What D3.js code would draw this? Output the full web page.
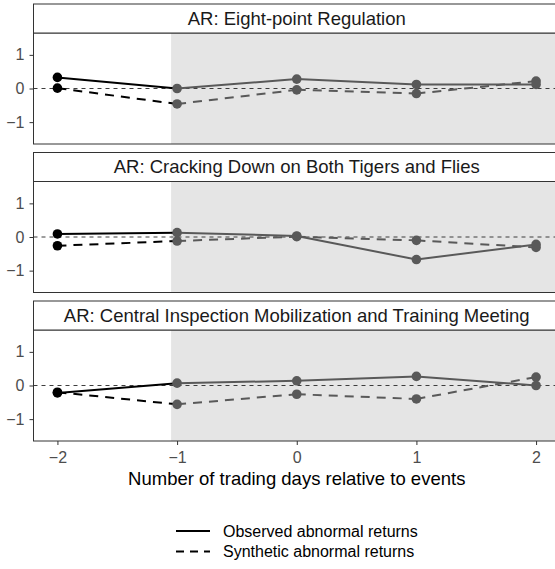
<!DOCTYPE html>
<html lang="en">
<head>
<meta charset="UTF-8">
<title>Abnormal returns around events</title>
<script src="https://cdn.jsdelivr.net/npm/d3@7"></script>
<style>
  body { margin: 0; background: #fff; overflow: hidden; }
  svg { display: block; font-family: "Liberation Sans", Arial, sans-serif; }
</style>
</head>
<body>
<script>
'use strict';

// data
var days = [-2, -1, 0, 1, 2];
var events = [
  'AR: Eight-point Regulation',
  'AR: Cracking Down on Both Tigers and Flies',
  'AR: Central Inspection Mobilization and Training Meeting'
];
var observed = [
  [0.33, 0.00, 0.28, 0.12, 0.12],
  [0.09, 0.13, 0.03, -0.67, -0.22],
  [-0.22, 0.07, 0.14, 0.27, 0.00]
];
var synthetic = [
  [0.01, -0.46, -0.04, -0.15, 0.22],
  [-0.26, -0.12, 0.01, -0.10, -0.31],
  [-0.20, -0.56, -0.26, -0.40, 0.25]
];
var yTicks = [-1, 0, 1];
var legendLabels = ['Observed abnormal returns', 'Synthetic abnormal returns'];

var W = 555, H = 569;
var left = 33.5, right = 560;
var top0 = 4, step = 148.5, stripH = 29, panelH = 111;
var preCol = '#000', postCol = '#595959';
var tickFont = 16;

var svg = d3.select('body').append('svg')
  .attr('width', W)
  .attr('height', H);

var x = d3.scaleLinear().domain([-2.2, 2.2]).range([left, right]);

events.forEach(function(title, i) {
  var stripTop = top0 + i * step;
  var pTop = stripTop + stripH;
  var pBot = pTop + panelH;
  var y = d3.scaleLinear().domain([-1.65, 1.65]).range([pBot, pTop]);

  var g = svg.append('g');

  // panel background + event window shading
  g.append('rect')
    .attr('x', left).attr('y', pTop)
    .attr('width', right - left).attr('height', panelH)
    .attr('fill', '#fff');
  g.append('rect')
    .attr('x', x(-1.05)).attr('y', pTop)
    .attr('width', right - x(-1.05)).attr('height', panelH)
    .attr('fill', '#e5e5e5');

  // zero reference
  g.append('line')
    .attr('x1', left).attr('x2', right)
    .attr('y1', y(0)).attr('y2', y(0))
    .attr('stroke', '#3d3d3d')
    .attr('stroke-width', 1)
    .attr('stroke-dasharray', '4,4');

  var series = [
    { vals: synthetic[i], dash: '9,7' },
    { vals: observed[i], dash: null }
  ];
  series.forEach(function(s) {
    var pts = days.map(function(d, k) { return { d: d, v: s.vals[k] }; });
    // segments: pre-event black, rest gray
    for (var k = 0; k < pts.length - 1; k++) {
      g.append('line')
        .attr('x1', x(pts[k].d)).attr('y1', y(pts[k].v))
        .attr('x2', x(pts[k + 1].d)).attr('y2', y(pts[k + 1].v))
        .attr('stroke', pts[k].d < -1 ? preCol : postCol)
        .attr('stroke-width', 2)
        .attr('stroke-dasharray', s.dash);
    }
    g.selectAll(null)
      .data(pts)
      .enter()
      .append('circle')
      .attr('cx', function(p) { return x(p.d); })
      .attr('cy', function(p) { return y(p.v); })
      .attr('r', 4.8)
      .attr('fill', function(p) { return p.d < -1 ? preCol : postCol; });
  });

  // panel border
  g.append('rect')
    .attr('x', left).attr('y', pTop)
    .attr('width', right - left).attr('height', panelH)
    .attr('fill', 'none')
    .attr('stroke', '#333')
    .attr('stroke-width', 1);

  // strip
  g.append('rect')
    .attr('x', left).attr('y', stripTop)
    .attr('width', right - left).attr('height', stripH)
    .attr('fill', '#fff')
    .attr('stroke', '#333')
    .attr('stroke-width', 1);
  g.append('text')
    .attr('x', (left + right) / 2)
    .attr('y', stripTop + stripH / 2)
    .attr('dy', '0.35em')
    .attr('text-anchor', 'middle')
    .attr('font-size', 18.5)
    .attr('fill', '#1a1a1a')
    .text(title);

  // y axis
  var ay = g.append('g')
    .attr('transform', 'translate(' + left + ',0)')
    .call(d3.axisLeft(y).tickValues(yTicks).tickSize(4).tickPadding(5).tickFormat(d3.format('d')));
  ay.select('.domain').remove();
  ay.selectAll('line').attr('stroke', '#333');
  ay.selectAll('text').attr('fill', '#4d4d4d').attr('font-size', tickFont)
    .attr('font-family', '"Liberation Sans", Arial, sans-serif');

  if (i === events.length - 1) {
    var ax = g.append('g')
      .attr('transform', 'translate(0,' + pBot + ')')
      .call(d3.axisBottom(x).tickValues(days).tickSize(4).tickPadding(6.5).tickFormat(d3.format('d')));
    ax.select('.domain').remove();
    ax.selectAll('line').attr('stroke', '#333');
    ax.selectAll('text').attr('fill', '#4d4d4d').attr('font-size', tickFont)
      .attr('font-family', '"Liberation Sans", Arial, sans-serif');

    svg.append('text')
      .attr('x', (left + right) / 2)
      .attr('y', 479)
      .attr('dy', '0.35em')
      .attr('text-anchor', 'middle')
      .attr('font-size', 18.5)
      .attr('fill', '#000')
      .text('Number of trading days relative to events');
  }
});

// legend
var lg = svg.append('g');
legendLabels.forEach(function(lab, k) {
  var ly = 531 + k * 20.5;
  lg.append('line')
    .attr('x1', 176).attr('x2', 210)
    .attr('y1', ly).attr('y2', ly)
    .attr('stroke', '#000')
    .attr('stroke-width', 2)
    .attr('stroke-dasharray', k === 0 ? null : '8,6');
  lg.append('text')
    .attr('x', 223).attr('y', ly)
    .attr('dy', '0.35em')
    .attr('font-size', 16)
    .attr('fill', '#000')
    .text(lab);
});
</script>
</body>
</html>
